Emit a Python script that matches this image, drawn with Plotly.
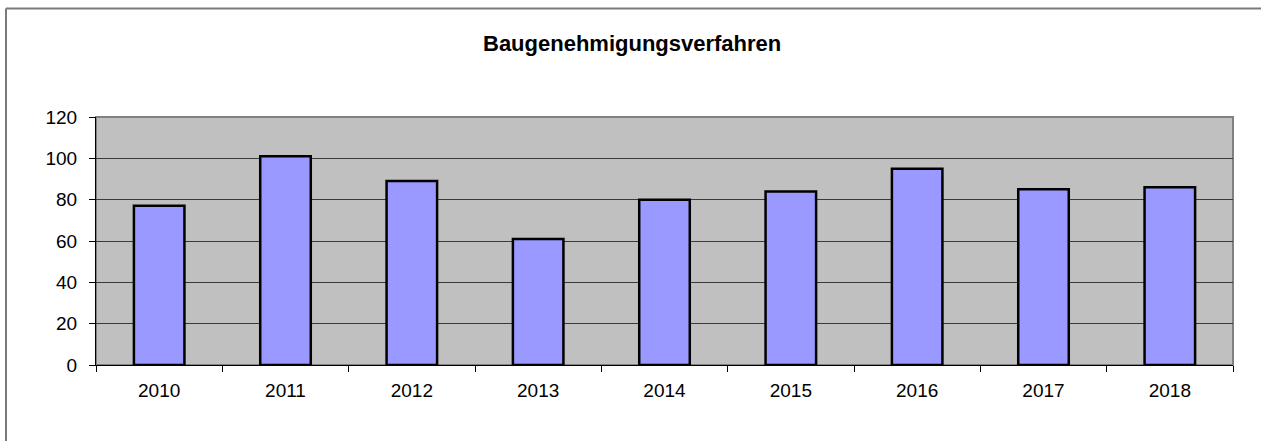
import plotly.graph_objects as go

years = ["2010", "2011", "2012", "2013", "2014", "2015", "2016", "2017", "2018"]
values = [77, 101, 89, 61, 80, 84, 95, 85, 86]
title_text = "Baugenehmigungsverfahren"

W, H = 1261, 441
L, R, T, B = 96, 1233, 117, 365
pw, ph = R - L, B - T

def px_x(x):
    return (x - L) / pw

def px_y(y):
    return (B - y) / ph

fig = go.Figure()
fig.add_trace(go.Bar(
    x=years, y=values,
    marker=dict(color="#9999FF", line=dict(color="black", width=2.5)),
    width=0.4,
))

frame = dict(color="#7a7a7a", width=2)

fig.update_layout(
    width=W, height=H,
    margin=dict(l=L, r=W - R, t=T, b=H - B, pad=0),
    paper_bgcolor="white",
    plot_bgcolor="#C0C0C0",
    showlegend=False,
    font=dict(family="Liberation Sans, Arial, sans-serif", size=19, color="black"),
    xaxis=dict(
        type="category",
        tickson="boundaries",
        ticks="outside", ticklen=6, tickcolor="black", tickwidth=1,
        showline=True, linecolor="black", linewidth=1,
        showgrid=False, zeroline=False,
        tickfont=dict(size=19),
        ticklabelstandoff=8,
    ),
    yaxis=dict(
        range=[0, 120], dtick=20, tick0=0,
        ticks="outside", ticklen=6, tickcolor="black", tickwidth=1,
        showline=True, linecolor="black", linewidth=1,
        showgrid=True, gridcolor="#3a3a3a", gridwidth=1,
        zeroline=False,
        tickfont=dict(size=19),
        ticklabelstandoff=8,
    ),
    shapes=[
        dict(type="rect", xref="paper", yref="paper", x0=0, x1=1, y0=0, y1=1,
             line=dict(color="#808080", width=2), layer="below"),
        dict(type="line", xref="paper", yref="paper",
             x0=px_x(6), x1=px_x(1300), y0=px_y(8.5), y1=px_y(8.5),
             line=frame, layer="above"),
        dict(type="line", xref="paper", yref="paper",
             x0=px_x(6), x1=px_x(6), y0=px_y(8.5), y1=px_y(480),
             line=frame, layer="above"),
    ],
    annotations=[
        dict(text="<b>" + title_text + "</b>", xref="paper", yref="paper",
             x=px_x(632), y=px_y(44), xanchor="center", yanchor="middle",
             showarrow=False, font=dict(size=22, color="black")),
    ],
)

fig.write_html("out.html", config={"displayModeBar": False},
               post_script="document.body.style.margin='0';document.body.style.padding='0';document.body.style.overflow='hidden';")
